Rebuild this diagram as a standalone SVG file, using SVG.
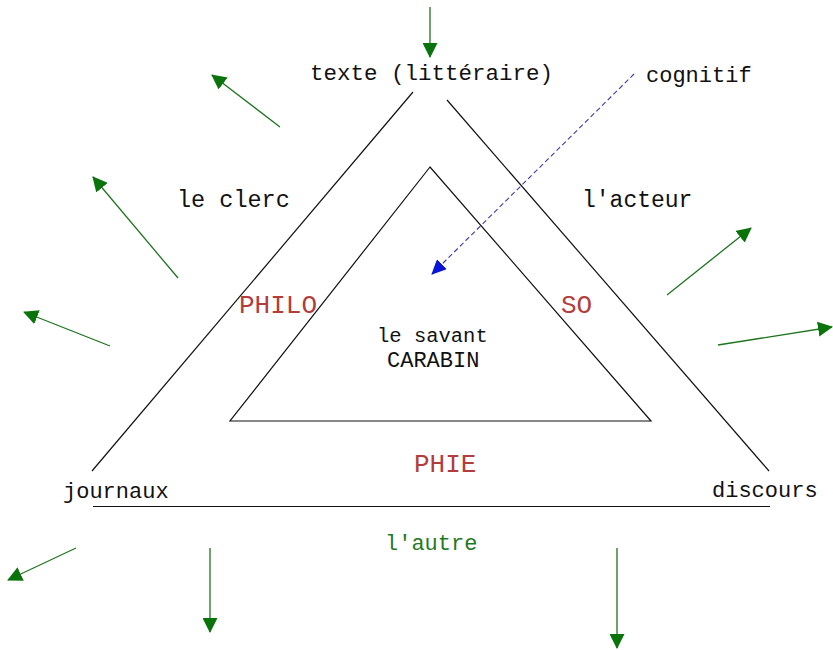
<svg xmlns="http://www.w3.org/2000/svg" width="833" height="650" viewBox="0 0 833 650">
<style>
.t{font-family:"Liberation Mono","Courier New",monospace;fill:#111;font-size:22px}
.r{fill:#b33c3c;font-size:26px}
.g{fill:#1f7a1f}
.ln{stroke:#111;stroke-width:1.2;fill:none}
.ar{stroke:#1f741f;stroke-width:1.3;fill:none;marker-end:url(#gh)}
.bl{stroke:#3a3aa8;stroke-width:1.1;stroke-dasharray:5 3;fill:none;marker-end:url(#bh)}
</style>
<defs>
<marker id="gh" markerUnits="userSpaceOnUse" markerWidth="16" markerHeight="15" refX="14" refY="7.5" orient="auto">
<path d="M0,0 L15,7.5 L0,15 Z" fill="#0b730b"/>
</marker>
<marker id="bh" markerUnits="userSpaceOnUse" markerWidth="16" markerHeight="14" refX="14" refY="7" orient="auto">
<path d="M0,0 L15,7 L0,14 Z" fill="#0a14d8"/>
</marker>
</defs>
<rect width="833" height="650" fill="#fff"/>
<g id="outer-triangle">
<line class="ln" x1="413" y1="92" x2="92" y2="471"/>
<line class="ln" x1="447" y1="100" x2="769" y2="471"/>
<line class="ln" x1="93" y1="506.5" x2="770" y2="506.5"/>
</g>
<g id="inner-triangle">
<polygon class="ln" points="430,167 230,421 651,421"/>
</g>
<g id="connectors">
<line class="ar" x1="430" y1="7" x2="430" y2="57"/>
<line class="ar" x1="280" y1="127" x2="212" y2="75"/>
<line class="ar" x1="178" y1="278" x2="93" y2="177"/>
<line class="ar" x1="110" y1="346" x2="24" y2="312"/>
<line class="ar" x1="667" y1="295" x2="751" y2="228"/>
<line class="ar" x1="718" y1="345" x2="832" y2="327"/>
<line class="ar" x1="76" y1="548" x2="8" y2="580"/>
<line class="ar" x1="210" y1="548" x2="210" y2="632"/>
<line class="ar" x1="617" y1="548" x2="617" y2="648"/>
<line class="bl" x1="634" y1="74" x2="432" y2="274"/>
</g>
<g id="texte"><text class="t" x="310" y="80" style="font-size:22.5px">texte (littéraire)</text></g>
<g id="cognitif"><text class="t" x="646" y="82">cognitif</text></g>
<g id="le-clerc"><text class="t" x="177" y="207" style="font-size:23.5px">le clerc</text></g>
<g id="acteur"><text class="t" x="582" y="207" style="font-size:23px">l'acteur</text></g>
<g id="philo"><text class="t r" x="239" y="313">PHILO</text></g>
<g id="so"><text class="t r" x="561" y="313">SO</text></g>
<g id="savant"><text class="t" x="377" y="342" style="font-size:20.5px">le savant</text><text class="t" x="387" y="367">CARABIN</text></g>
<g id="phie"><text class="t r" x="414" y="472">PHIE</text></g>
<g id="journaux"><text class="t" x="63" y="498">journaux</text></g>
<g id="discours"><text class="t" x="712" y="497">discours</text></g>
<g id="autre"><text class="t g" x="385" y="550">l'autre</text></g>
</svg>
